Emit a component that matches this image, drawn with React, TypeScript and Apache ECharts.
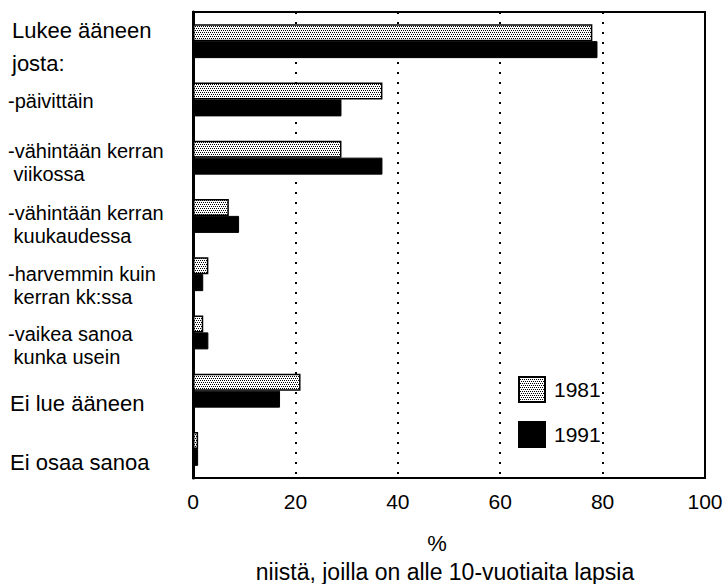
import React, { useEffect, useRef } from "react";
import * as echarts from "echarts";

const categories = [
  "Lukee ääneen\njosta:",
  "-päivittäin",
  "-vähintään kerran\n viikossa",
  "-vähintään kerran\n kuukaudessa",
  "-harvemmin kuin\n kerran kk:ssa",
  "-vaikea sanoa\n kunka usein",
  "Ei lue ääneen",
  "Ei osaa sanoa",
];
const values1981 = [78, 37, 29, 7, 3, 2, 21, 1];
const values1991 = [79, 29, 37, 9, 2, 3, 17, 1];
const seriesNames = ["1981", "1991"];
const xTicks = [0, 20, 40, 60, 80, 100];
const axisTitle = "%";
const axisSubtitle = "niistä, joilla on alle 10-vuotiaita lapsia";

const FONT = "'Liberation Sans', Arial, Helvetica, sans-serif";

// label styling (not data): size, line height, padding (top-anchored)
const labelStyles = [
  { fontSize: 22, lineHeight: 33, padding: [-27, 0, 0, 4] },
  { fontSize: 20, lineHeight: 23, padding: [-10, 0, 0, 0] },
  { fontSize: 20, lineHeight: 23, padding: [-18, 0, 0, 0] },
  { fontSize: 20, lineHeight: 23, padding: [-14, 0, 0, 0] },
  { fontSize: 20, lineHeight: 23, padding: [-12, 0, 0, 0] },
  { fontSize: 20, lineHeight: 23, padding: [-10, 0, 0, 0] },
  { fontSize: 22, lineHeight: 24, padding: [1, 0, 0, 2] },
  { fontSize: 22, lineHeight: 24, padding: [2, 0, 0, 2] },
];

function makePattern(): HTMLCanvasElement {
  const c = document.createElement("canvas");
  c.width = 4;
  c.height = 4;
  const ctx = c.getContext("2d")!;
  ctx.fillStyle = "#ffffff";
  ctx.fillRect(0, 0, 4, 4);
  ctx.fillStyle = "#000000";
  ctx.fillRect(0, 0, 1, 1);
  ctx.fillRect(2, 0, 1, 1);
  ctx.fillRect(1, 2, 1, 1);
  ctx.fillRect(3, 2, 1, 1);
  return c;
}

export default function App() {
  const ref = useRef<HTMLDivElement>(null);
  useEffect(() => {
    document.body.style.margin = "0";
    if (!ref.current) return;
    const chart = echarts.init(ref.current, null, { renderer: "svg" });
    const pattern = { image: makePattern(), repeat: "repeat" };
    chart.setOption({
      animation: false,
      backgroundColor: "#ffffff",
      textStyle: { fontFamily: FONT, color: "#000" },
      grid: {
        left: 193,
        right: 22,
        top: 12,
        bottom: 106,
        show: true,
        borderColor: "#000",
        borderWidth: 2,
        containLabel: false,
        outerBoundsMode: "none",
      },
      legend: {
        orient: "vertical",
        left: 518,
        top: 376,
        padding: 0,
        itemWidth: 26,
        itemHeight: 25,
        itemGap: 18,
        icon: "rect",
        data: seriesNames,
        textStyle: { fontSize: 21, fontFamily: FONT, color: "#000", padding: [2, 0, 0, 4] },
      },
      xAxis: {
        type: "value",
        min: xTicks[0],
        max: xTicks[xTicks.length - 1],
        interval: xTicks[1] - xTicks[0],
        axisLine: { show: false },
        axisTick: { show: false },
        axisLabel: { fontSize: 21, color: "#000", fontFamily: FONT, margin: 13 },
        splitLine: {
          show: true,
          lineStyle: { color: "#000", width: 2, type: [2, 8] },
        },
      },
      yAxis: {
        type: "category",
        inverse: true,
        data: categories.map((c, i) => ({
          value: c,
          textStyle: {
            ...labelStyles[i],
            align: "left",
            verticalAlign: "top",
            color: "#000",
            fontFamily: FONT,
          },
        })),
        axisLine: { show: true, lineStyle: { color: "#000", width: 3 } },
        axisTick: { show: false },
        axisLabel: {
          align: "left",
          verticalAlign: "top",
          margin: 185,
          color: "#000",
          fontFamily: FONT,
          interval: 0,
        },
      },
      series: [
        {
          name: seriesNames[0],
          type: "bar",
          data: values1981,
          barWidth: 17,
          barGap: "0%",
          itemStyle: { color: pattern, borderColor: "#000", borderWidth: 1.5 },
        },
        {
          name: seriesNames[1],
          type: "bar",
          data: values1991,
          barWidth: 17,
          barGap: "0%",
          itemStyle: { color: "#000", borderColor: "#000", borderWidth: 1 },
        },
      ],
      graphic: [
        {
          type: "text",
          x: 437,
          y: 543,
          style: {
            text: axisTitle,
            fontSize: 22,
            fontFamily: FONT,
            fill: "#000",
            align: "center",
            verticalAlign: "middle",
          },
        },
        {
          type: "text",
          x: 445,
          y: 572,
          style: {
            text: axisSubtitle,
            fontSize: 23,
            fontFamily: FONT,
            fill: "#000",
            align: "center",
            verticalAlign: "middle",
          },
        },
      ],
    });
    return () => chart.dispose();
  }, []);
  return <div ref={ref} style={{ width: 727, height: 584 }} />;
}
